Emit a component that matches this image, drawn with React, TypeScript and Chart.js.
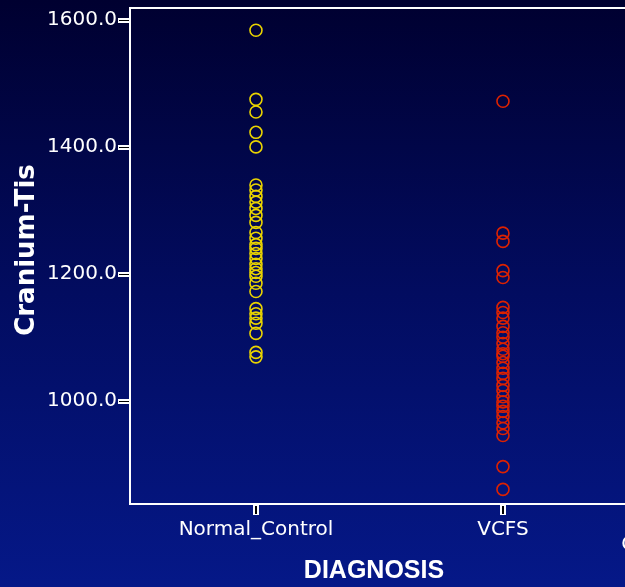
import React, { useEffect, useRef } from "react";
import { Chart, registerables } from "chart.js";

Chart.register(...registerables);

const categories = ["Normal_Control", "VCFS", "Other_Comparison_Group"];
const normalControl = [
  1584, 1475, 1455, 1423, 1400, 1340, 1332, 1322, 1313, 1303, 1292, 1281, 1265,
  1256, 1246, 1240, 1232, 1224, 1215, 1208, 1202, 1196, 1185, 1172, 1145, 1137,
  1130, 1122, 1106, 1076, 1069,
];
const vcfs = [
  1472, 1264, 1251, 1205, 1194, 1147, 1139, 1130, 1117, 1107, 1100, 1090, 1081,
  1074, 1070, 1060, 1051, 1043, 1035, 1024, 1016, 1006, 998, 991, 983, 975, 965,
  956, 945, 896, 860,
];
const yTicks = [1000, 1200, 1400, 1600];
const yMin = 837;
const yMax = 1619;
const xMin = -0.51;
const xMax = 2.49;
const yTitle = "Cranium-Tis";
const xTitle = "DIAGNOSIS";

const framePlugin = {
  id: "frame",
  beforeDatasetsDraw(chart: any) {
    const { ctx, chartArea } = chart;
    const { left, top, right, bottom } = chartArea;
    ctx.save();
    ctx.strokeStyle = "#ffffff";
    ctx.lineWidth = 2;
    ctx.strokeRect(left, top, right - left, bottom - top);
    const ys = chart.scales.y;
    yTicks.forEach((v) => {
      const ty = Math.round(ys.getPixelForValue(v));
      ctx.fillStyle = "#ffffff";
      ctx.fillRect(left - 12, ty - 2, 12, 5);
      ctx.fillStyle = "#000000";
      ctx.fillRect(left - 11, ty, 10, 1);
    });
    const xs = chart.scales.x;
    categories.forEach((c, i) => {
      const tx = Math.round(xs.getPixelForValue(i));
      ctx.fillStyle = "#ffffff";
      ctx.fillRect(tx - 3, bottom + 1, 6, 10);
      ctx.fillStyle = "#000000";
      ctx.fillRect(tx - 1, bottom + 2, 2, 8);
    });
    ctx.restore();
  },
  afterDraw(chart: any) {
    const { ctx } = chart;
    ctx.save();
    ctx.fillStyle = "#ffffff";
    ctx.textAlign = "center";
    ctx.textBaseline = "middle";
    ctx.font = "bold 25px 'Liberation Sans'";
    ctx.fillText(xTitle, 374, 571);
    ctx.translate(27, 250);
    ctx.rotate(-Math.PI / 2);
    ctx.font = "bold 26px 'DejaVu Sans'";
    ctx.fillText(yTitle, 0, 0);
    ctx.restore();
  },
};

export default function App() {
  const ref = useRef<HTMLCanvasElement>(null);
  useEffect(() => {
    if (!ref.current) return;
    const chart = new Chart(ref.current, {
      type: "scatter",
      data: {
        datasets: [
          {
            label: categories[0],
            data: normalControl.map((y) => ({ x: 0, y })),
            borderColor: "#ead400",
            backgroundColor: "rgba(0,0,0,0)",
            pointRadius: 6,
            pointBorderWidth: 1.6,
          },
          {
            label: categories[1],
            data: vcfs.map((y) => ({ x: 1, y })),
            borderColor: "#dd2200",
            backgroundColor: "rgba(0,0,0,0)",
            pointRadius: 6,
            pointBorderWidth: 1.6,
          },
        ],
      },
      options: {
        responsive: false,
        animation: false,
        devicePixelRatio: 1,
        layout: { padding: { top: 8, right: 9, left: 0, bottom: 0 } },
        plugins: { legend: { display: false }, tooltip: { enabled: false } },
        scales: {
          x: {
            type: "linear",
            min: xMin,
            max: xMax,
            grid: { display: false, drawTicks: false },
            border: { display: false },
            afterBuildTicks: (scale: any) => {
              scale.ticks = categories.map((_c, i) => ({ value: i }));
            },
            ticks: {
              color: "#ffffff",
              autoSkip: false,
              maxRotation: 0,
              minRotation: 0,
              padding: 14,
              font: (ctx: any) =>
                ctx.index === 2
                  ? { family: "'DejaVu Sans'", size: 20, lineHeight: 0.9 }
                  : { family: "'DejaVu Sans'", size: 20, lineHeight: 1.2 },
              callback: (v: any) => {
                const i = Math.round(Number(v));
                return i === 2 ? ["", categories[i]] : categories[i];
              },
            },
            afterFit: (scale: any) => {
              scale.height = 83;
              scale.paddingLeft = 0;
              scale.paddingRight = 0;
            },
          },
          y: {
            type: "linear",
            min: yMin,
            max: yMax,
            grid: { display: false, drawTicks: false },
            border: { display: false },
            afterBuildTicks: (scale: any) => {
              scale.ticks = yTicks.map((v) => ({ value: v }));
            },
            ticks: {
              color: "#ffffff",
              padding: 13,
              font: { family: "'DejaVu Sans'", size: 20 },
              callback: (v: any) => Number(v).toFixed(1),
            },
            afterFit: (scale: any) => {
              scale.width = 130;
              scale.paddingTop = 0;
              scale.paddingBottom = 0;
            },
          },
        },
      },
      plugins: [framePlugin],
    });
    return () => chart.destroy();
  }, []);
  return (
    <div
      style={{
        position: "fixed",
        left: 0,
        top: 0,
        width: 625,
        height: 587,
        overflow: "hidden",
        background: "linear-gradient(to bottom, #000030 0%, #020c60 50%, #051888 100%)",
      }}
    >
      <canvas
        ref={ref}
        width={880}
        height={587}
        style={{ display: "block", width: 880, height: 587 }}
      />
    </div>
  );
}
